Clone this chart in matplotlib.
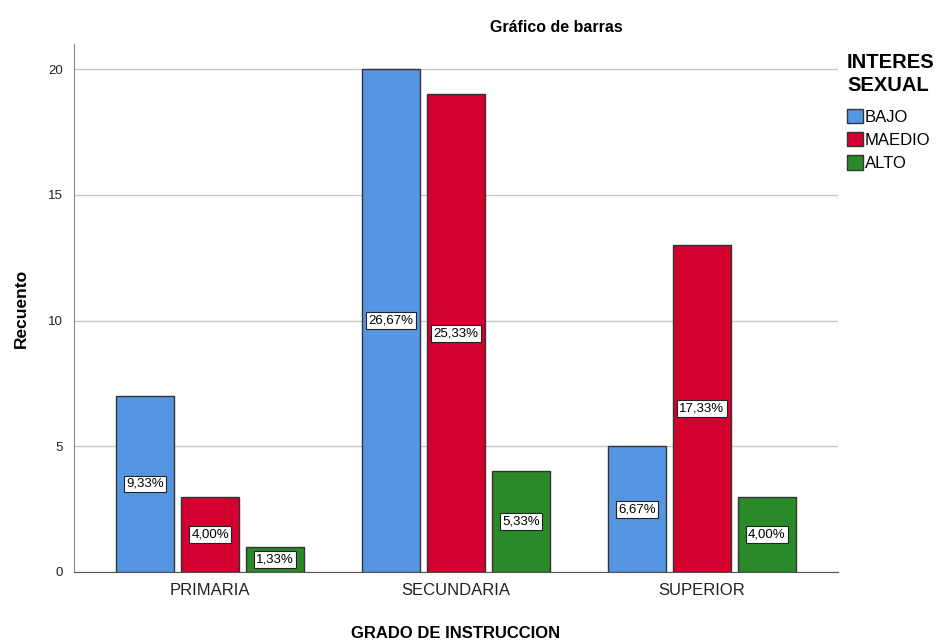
import matplotlib.pyplot as plt
import numpy as np

categories = ["PRIMARIA", "SECUNDARIA", "SUPERIOR"]
series_names = ["BAJO", "MAEDIO", "ALTO"]
bajo = [7, 20, 5]
maedio = [3, 19, 13]
alto = [1, 4, 3]
pct_labels = [
    ["9,33%", "26,67%", "6,67%"],
    ["4,00%", "25,33%", "17,33%"],
    ["1,33%", "5,33%", "4,00%"],
]
colors = ["#5596e3", "#d3002f", "#2a8a2a"]

plt.rcParams['font.family'] = ['Liberation Sans', 'DejaVu Sans']

fig = plt.figure(figsize=(9.46, 6.44), dpi=100)
ax = fig.add_axes([74 / 946, 1 - 572 / 644, (838 - 74) / 946, (572 - 44) / 644])

x = np.arange(len(categories))
width = 0.236
step = 0.264

for i, (vals, name) in enumerate(zip([bajo, maedio, alto], series_names)):
    pos = x + (i - 1) * step
    ax.bar(pos, vals, width, color=colors[i], edgecolor="#333333",
           linewidth=1, label=name, zorder=3)
    for p, v, lab in zip(pos, vals, pct_labels[i]):
        ax.text(p, v / 2, lab, ha="center", va="center", fontsize=9.5,
                zorder=4,
                bbox=dict(boxstyle="square,pad=0.18", fc="white",
                          ec="#222222", lw=0.8))

ax.set_xlim(-0.553, 2.553)
ax.set_ylim(0, 21)
ax.set_yticks([0, 5, 10, 15, 20])
ax.set_xticks(x)
ax.set_xticklabels(categories, fontsize=12, color="#222222")
ax.tick_params(axis="y", length=0, labelsize=9.5, pad=8, colors="#222222")
ax.tick_params(axis="x", length=0, pad=8)
ax.yaxis.grid(True, color="#c8c8c8", linewidth=1, zorder=0)
ax.set_axisbelow(True)
for s in ["top", "right"]:
    ax.spines[s].set_visible(False)
ax.spines["left"].set_color("#888888")
ax.spines["bottom"].set_color("#555555")

ax.set_ylabel("Recuento", fontsize=12.5, fontweight="bold", labelpad=14)
fig.text(456 / 946, 1 - 633 / 644, "GRADO DE INSTRUCCION", ha="center",
         va="center", fontsize=12, fontweight="bold")
fig.text(556 / 946, 1 - 27 / 644, "Gráfico de barras", ha="center",
         va="center", fontsize=11.5, fontweight="bold")

leg = fig.legend(loc="upper left", bbox_to_anchor=(847 / 946, 1 - 53 / 644),
                 title="INTERES\nSEXUAL", frameon=False, fontsize=12,
                 handlelength=0.95, handleheight=0.95, handletextpad=0.1,
                 labelspacing=0.45, borderaxespad=0, borderpad=0)
leg.get_title().set_fontweight("bold")
leg.get_title().set_fontsize(14.5)
leg.get_title().set_linespacing(1.25)
leg._legend_box.align = "left"
leg._legend_box.sep = 10
for h in leg.legend_handles:
    h.set_edgecolor("#333333")

fig.savefig("out.png", dpi=100)
